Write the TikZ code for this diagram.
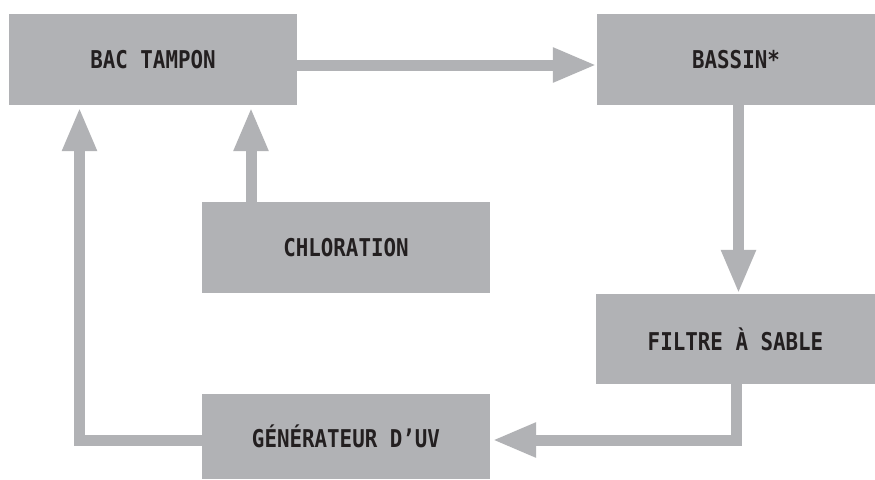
\documentclass[tikz,border=0pt]{standalone}
\usepackage{fontspec}
\newfontfamily\boxfont[FakeStretch=0.85]{DejaVu Sans Mono Bold}
\usetikzlibrary{arrows.meta}
\definecolor{boxgray}{HTML}{B1B2B5}
\definecolor{txt}{HTML}{231F20}
\tikzset{
  procbox/.style={fill=boxgray, draw=none, inner sep=0pt, text=txt,
    font=\boxfont\fontsize{24.5}{28}\selectfont},
  flow/.style={draw=boxgray, line width=11pt, line join=miter,
    -{Triangle[length=44pt,width=32pt]}}
}
\begin{document}
\begin{tikzpicture}[x=1pt,y=-1pt]
\useasboundingbox[fill=white] (0,0) rectangle (875,479);
\node[procbox, minimum width=288pt, minimum height=91pt] (bac) at (153,59.5) {BAC TAMPON};
\node[procbox, minimum width=278pt, minimum height=91pt] (bassin) at (736,59.5) {BASSIN*};
\node[procbox, minimum width=288pt, minimum height=91pt] (chlor) at (346,247.5) {CHLORATION};
\node[procbox, minimum width=279pt, minimum height=90pt] (filtre) at (735.5,339) {FILTRE À SABLE};
\node[procbox, minimum width=288pt, minimum height=85pt] (gen) at (346,436.5) {GÉNÉRATEUR D’UV};
\coordinate (bacin) at ([yshift=-2pt]bac.south);
\coordinate (c1) at ([xshift=-95pt]chlor.north);
\coordinate (c2) at ([xshift=-73.5pt]bac.south);
\coordinate (g1) at ([yshift=-3.5pt]gen.west);
\coordinate (g2) at ([xshift=2pt,yshift=-3.5pt]gen.east);
\coordinate (f1) at ([xshift=1pt]filtre.south);
\coordinate (b1) at ([yshift=-5.5pt]bac.east);
\coordinate (s1) at ([xshift=2.5pt]bassin.south);
\draw[flow] (b1) -- (b1 -| bassin.west);
\draw[flow] (s1) -- (s1 |- filtre.north);
\draw[flow] (f1) |- (g2);
\draw[flow] (g1) -| (c2 |- bacin);
\draw[flow] (c1) -- (c1 |- bacin);
\end{tikzpicture}
\end{document}
